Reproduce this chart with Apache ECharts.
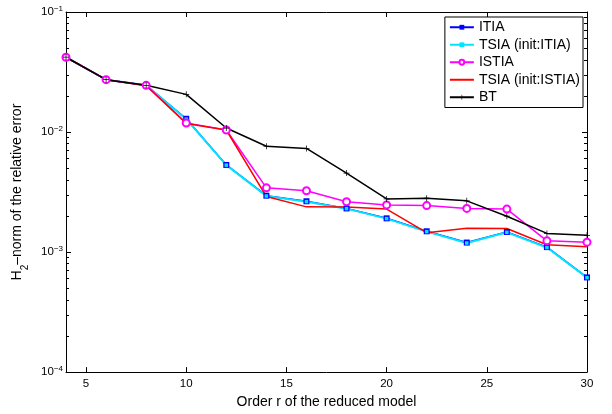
<!DOCTYPE html>
<html>
<head>
<meta charset="utf-8">
<script src="https://cdn.jsdelivr.net/npm/echarts@6/dist/echarts.min.js"></script>
<style>
html,body{margin:0;padding:0;background:#fff;}
#chart{width:612px;height:414px;}
</style>
</head>
<body>
<div id="chart"></div>
<script>
var orders = [4, 6, 8, 10, 12, 14, 16, 18, 20, 22, 24, 26, 28, 30];
var itia = [0.042, 0.0273, 0.0245, 0.0129, 0.00532, 0.00295, 0.00265, 0.00231, 0.00191, 0.00149, 0.00120, 0.00147, 0.00110, 0.000615];
var tsiaItia = [0.042, 0.0273, 0.0245, 0.0128, 0.00530, 0.00293, 0.00263, 0.00230, 0.00190, 0.00148, 0.00119, 0.00146, 0.00109, 0.000612];
var istia = [0.042, 0.0273, 0.0245, 0.0119, 0.0104, 0.00343, 0.00324, 0.00263, 0.00247, 0.00244, 0.00231, 0.00228, 0.00124, 0.00121];
var tsiaIstia = [0.042, 0.0273, 0.0243, 0.0118, 0.0104, 0.00290, 0.00238, 0.00237, 0.00228, 0.00145, 0.00158, 0.00157, 0.00115, 0.00111];
var bt = [0.042, 0.0273, 0.0245, 0.0206, 0.0108, 0.00762, 0.00730, 0.00455, 0.00277, 0.00281, 0.00267, 0.00199, 0.00143, 0.00138];
var xTicks = [5, 10, 15, 20, 25, 30];
var yTicks = [1e-4, 1e-3, 1e-2, 1e-1];
var seriesNames = ['ITIA', 'TSIA (init:ITIA)', 'ISTIA', 'TSIA (init:ISTIA)', 'BT'];

var yMinorTicks = [];
[1e-4, 1e-3, 1e-2].forEach(function (d) {
  [2, 3, 4, 5, 6, 7, 8, 9].forEach(function (m) { yMinorTicks.push(+(d * m).toPrecision(3)); });
});

function pairs(arr) { return orders.map(function (x, i) { return [x, arr[i]]; }); }

var FONT = '"Liberation Sans", Arial, Helvetica, sans-serif';
var plusPath = 'path://M0,4.4H4.4V0H5.6V4.4H10V5.6H5.6V10H4.4V5.6H0Z';

var chart = echarts.init(document.getElementById('chart'), null, {renderer: 'canvas'});

function xAxisBase(pos) {
  return {
    type: 'value', min: 4, max: 30, position: pos,
    axisLine: {show: true, onZero: false, lineStyle: {color: '#000', width: 1}},
    axisTick: {show: true, inside: true, length: 5, customValues: xTicks, lineStyle: {color: '#000'}},
    splitLine: {show: false}
  };
}
function yAxisBase(pos) {
  return {
    type: 'log', logBase: 10, min: 1e-4, max: 1e-1, position: pos,
    axisLine: {show: true, onZero: false, lineStyle: {color: '#000', width: 1}},
    axisTick: {show: true, inside: true, length: 5, customValues: yTicks, lineStyle: {color: '#000'}},
    splitLine: {show: false},
    minorTick: {show: false}
  };
}
function yMinorAxis(pos) {
  return {
    type: 'log', logBase: 10, min: 1e-4, max: 1e-1, position: pos,
    axisLine: {show: false},
    axisTick: {show: true, inside: true, length: 3, customValues: yMinorTicks, lineStyle: {color: '#000'}},
    axisLabel: {show: false},
    splitLine: {show: false}
  };
}

var xBottom = xAxisBase('bottom');
xBottom.axisLabel = {show: true, customValues: xTicks, fontSize: 11.5, color: '#000', fontFamily: FONT, margin: 6};
xBottom.name = 'Order r of the reduced model';
xBottom.nameLocation = 'middle';
xBottom.nameGap = 18;
xBottom.nameTextStyle = {fontSize: 14, color: '#000', fontFamily: FONT};

var xTop = xAxisBase('top');
xTop.axisLabel = {show: false};

var yLeft = yAxisBase('left');
yLeft.axisLabel = {
  show: true, margin: 3, customValues: yTicks,
  formatter: function (v) {
    var e = Math.round(Math.log10(v));
    return '{b|10}{s|' + (e < 0 ? '\u2212' + (-e) : e) + '}';
  },
  rich: {
    b: {fontSize: 11.5, color: '#000', fontFamily: FONT, lineHeight: 14, verticalAlign: 'middle'},
    s: {fontSize: 8, color: '#000', fontFamily: FONT, lineHeight: 8, verticalAlign: 'top'}
  }
};
yLeft.name = '{a|H}{sub|2}{a|\u2013norm of the relative error}';
yLeft.nameLocation = 'middle';
yLeft.nameGap = 31;
yLeft.nameRotate = 90;
yLeft.nameTextStyle = {
  fontSize: 14, color: '#000', fontFamily: FONT,
  rich: {
    a: {fontSize: 14, color: '#000', fontFamily: FONT, lineHeight: 20, verticalAlign: 'top'},
    sub: {fontSize: 10, color: '#000', fontFamily: FONT, lineHeight: 10, verticalAlign: 'bottom'}
  }
};

var yRight = yAxisBase('right');
yRight.axisLabel = {show: false};

var option = {
  animation: false,
  backgroundColor: '#fff',
  grid: {left: 66, right: 25, top: 12, bottom: 37, containLabel: false},
  legend: {
    show: true, orient: 'vertical', right: 29, top: 17,
    data: [
      {name: seriesNames[0]},
      {name: seriesNames[1]},
      {name: seriesNames[2]},
      {name: seriesNames[3], itemStyle: {opacity: 0}},
      {name: seriesNames[4]}
    ],
    backgroundColor: '#fff', borderColor: '#000', borderWidth: 1,
    padding: [3, 3, 3, 4], itemGap: 3, itemWidth: 24, itemHeight: 6,
    textStyle: {fontSize: 14, color: '#000', fontFamily: FONT, lineHeight: 14.5},
    selectedMode: false
  },
  xAxis: [xBottom, xTop],
  yAxis: [yLeft, yRight, yMinorAxis('left'), yMinorAxis('right')],
  series: [
    {
      name: seriesNames[0], type: 'line', data: pairs(itia),
      symbol: 'rect', symbolSize: 6, showAllSymbol: true,
      lineStyle: {color: '#0000ff', width: 1.5},
      itemStyle: {color: '#0000ff'}
    },
    {
      name: seriesNames[1], type: 'line', data: pairs(tsiaItia),
      symbol: 'rect', symbolSize: 3.5, showAllSymbol: true,
      lineStyle: {color: '#00e5ff', width: 2},
      itemStyle: {color: '#00e5ff'}
    },
    {
      name: seriesNames[2], type: 'line', data: pairs(istia),
      symbol: 'emptyCircle', symbolSize: 7, showAllSymbol: true,
      lineStyle: {color: '#ff00ff', width: 1.5},
      itemStyle: {color: '#ff00ff', borderWidth: 1.5}
    },
    {
      name: seriesNames[3], type: 'line', data: pairs(tsiaIstia),
      symbol: 'none',
      lineStyle: {color: '#ff0000', width: 1.5},
      itemStyle: {color: '#ff0000'}
    },
    {
      name: seriesNames[4], type: 'line', data: pairs(bt),
      symbol: plusPath, symbolSize: 6, showAllSymbol: true,
      lineStyle: {color: '#000000', width: 1.5},
      itemStyle: {color: '#000000'}
    }
  ]
};
chart.setOption(option);
</script>
</body>
</html>
